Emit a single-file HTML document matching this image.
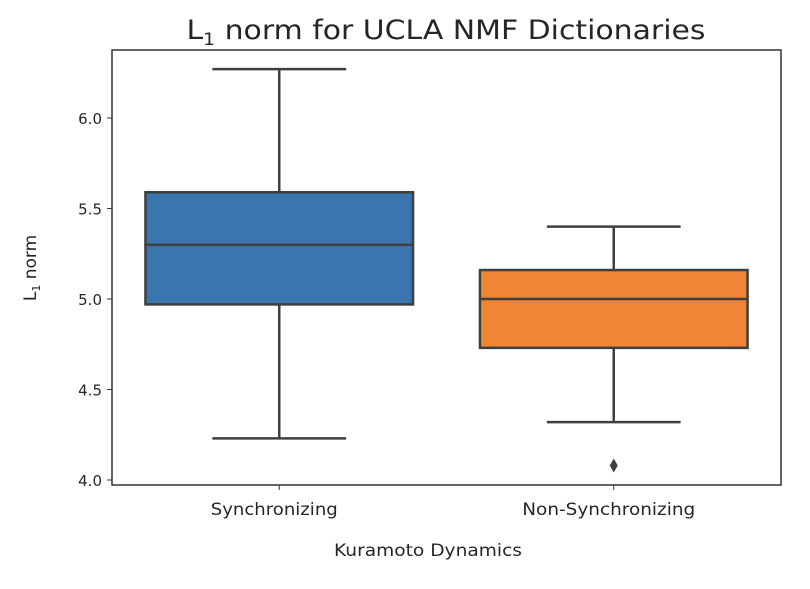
<!DOCTYPE html>
<html><head><meta charset="utf-8"><style>
body{margin:0;background:#fff;}
svg text{font-family:"DejaVu Sans","Liberation Sans",sans-serif;fill:#262626;}
</style></head><body>
<svg width="810" height="584" xmlns="http://www.w3.org/2000/svg">
<text x="446" y="39" font-size="27" text-anchor="middle" textLength="519" lengthAdjust="spacingAndGlyphs">L<tspan font-size="17" dy="6">1</tspan><tspan dy="-6"> norm for UCLA NMF Dictionaries</tspan></text>
<g id="plot"></g>
<text x="428" y="556" font-size="17" text-anchor="middle" textLength="188" lengthAdjust="spacingAndGlyphs">Kuramoto Dynamics</text>
<text transform="translate(36,268) rotate(-90)" font-size="17" text-anchor="middle">L<tspan font-size="11" dy="4">1</tspan><tspan dy="-4"> norm</tspan></text>
</svg>
<script>
const categories=["Synchronizing","Non-Synchronizing"];
const whiskerLow=[4.23,4.32];
const q1=[4.97,4.73];
const median=[5.30,5.00];
const q3=[5.59,5.16];
const whiskerHigh=[6.27,5.40];
const outliers=[[],[4.08]];
const colors=["#3a75af","#ef8535"];
const yTicks=[4.0,4.5,5.0,5.5,6.0];
const labelW=[127,173];
const L=112,R=781,T=50,B=485;
const y=v=>480-(v-4)*181;
const band=(R-L)/categories.length;
const xc=i=>L+band*(i+0.5);
const g=document.getElementById('plot');
const NS="http://www.w3.org/2000/svg";
function mk(t,a,p){const e=document.createElementNS(NS,t);for(const k in a)e.setAttribute(k,a[k]);(p||g).appendChild(e);return e;}
const ec="#3f3f3f";
categories.forEach((c,i)=>{
  const cx=xc(i),hw=band*0.4,cw=band*0.2;
  let e=mk('line',{x1:cx,x2:cx,y1:y(whiskerHigh[i]),y2:y(q3[i]),stroke:ec,'stroke-width':2.5});
  
  e=mk('line',{x1:cx,x2:cx,y1:y(q1[i]),y2:y(whiskerLow[i]),stroke:ec,'stroke-width':2.5});
  
  e=mk('line',{x1:cx-cw,x2:cx+cw,y1:y(whiskerHigh[i]),y2:y(whiskerHigh[i]),stroke:ec,'stroke-width':2.5});
  
  e=mk('line',{x1:cx-cw,x2:cx+cw,y1:y(whiskerLow[i]),y2:y(whiskerLow[i]),stroke:ec,'stroke-width':2.5});
  
  e=mk('rect',{x:cx-hw,y:y(q3[i]),width:hw*2,height:y(q1[i])-y(q3[i]),fill:colors[i],stroke:ec,'stroke-width':2.5});
  
  e=mk('line',{x1:cx-hw,x2:cx+hw,y1:y(median[i]),y2:y(median[i]),stroke:ec,'stroke-width':2.5});
  
  outliers[i].forEach(v=>{
    const o=mk('path',{d:`M${cx} ${y(v)-7} L${cx+4} ${y(v)} L${cx} ${y(v)+7} L${cx-4} ${y(v)} Z`,fill:ec});
    
  });
  mk('line',{x1:cx,x2:cx,y1:B,y2:B+5,stroke:'#333','stroke-width':1});
  const t=mk('text',{x:cx-5,y:B+30,'font-size':17,'text-anchor':'middle',textLength:labelW[i],lengthAdjust:'spacingAndGlyphs'});t.textContent=c;
  
});
yTicks.forEach(v=>{
  mk('line',{x1:L-5,x2:L,y1:y(v),y2:y(v),stroke:'#333','stroke-width':1});
  const t=mk('text',{x:L-10,y:y(v)+6,'font-size':15,'text-anchor':'end'});t.textContent=v.toFixed(1);
  
});
const f=mk('rect',{x:L,y:T,width:R-L,height:B-T,fill:'none',stroke:'#333','stroke-width':1.5});

</script>
</body></html>
